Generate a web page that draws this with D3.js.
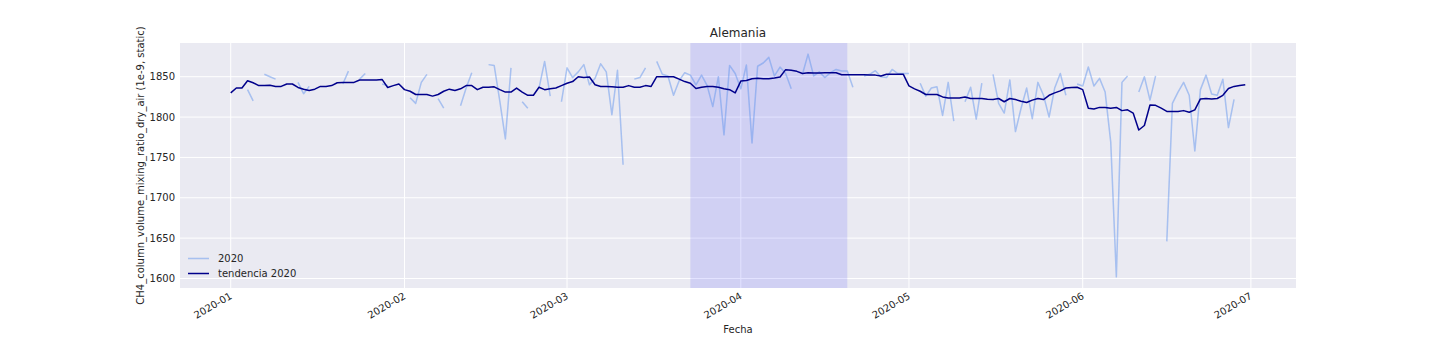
<!DOCTYPE html>
<html>
<head>
<meta charset="utf-8">
<script src="https://cdn.jsdelivr.net/npm/d3@7"></script>
<style>
  html, body { margin: 0; padding: 0; background: #ffffff; }
  svg { display: block; font-family: "DejaVu Sans", sans-serif; }
</style>
</head>
<body>
<svg id="chart" width="1440" height="360"></svg>
<script>
// ---- Data ----
const title = "Alemania";
const xLabel = "Fecha";
const yLabel = "CH4_column_volume_mixing_ratio_dry_air (1e-9, static)";
const seriesNames = ["2020", "tendencia 2020"];
const startDay = "2020-01-01";
const endDayExclusive = "2020-07-01";
const yTicks = [1600, 1650, 1700, 1750, 1800, 1850];
const xTickLabels = ["2020-01", "2020-02", "2020-03", "2020-04", "2020-05", "2020-06", "2020-07"];
const spanStart = "2020-03-23";
const spanEnd = "2020-04-20";

// daily raw values (null = missing)
const raw2020 = [
  null, null, null, 1834, 1820, null, 1853, 1850, 1847, null,
  null, null, 1843, 1829, 1838, null, null, null, null, null,
  1841, 1857, null, 1847, 1854, null, null, 1841, 1839, null,
  null, null, 1824, 1817, 1843, 1853, null, 1823, 1811, null,
  null, 1814, 1836, 1855, null, null, 1865, 1864, 1820, 1773,
  1861, null, 1819, 1811, null, 1836, 1869, 1826, null, 1819,
  1861, 1849, 1856, 1865, 1840, 1848, 1866, 1856, 1803, 1858,
  1741, null, 1847, 1849, 1861, null, 1869, 1853, 1851, 1827,
  1845, 1855, 1852, 1840, 1852, 1839, 1813, 1850, 1778, 1864,
  1854, 1835, 1864.6, 1768, 1863, 1867, 1874, 1851, 1862, 1854,
  1835, null, 1853, 1878, 1851, 1856, 1849, 1855, 1859, 1857,
  1857, 1837, null, 1851, 1853, 1857.5, 1850, 1849, 1859, 1854,
  1854, 1854, null, 1842, 1826, 1836, 1837.5, 1802, 1843, 1795,
  null, 1819, 1837, 1797.5, 1842, null, 1853, 1817, 1805, 1846,
  1782, 1811, 1836, 1798, 1843, 1827, 1800, 1836, 1854, 1827,
  null, 1841, 1838.5, 1862, 1838.5, 1848, 1831, 1769, 1602, 1843,
  1851, null, 1831, 1850, 1821, 1851, null, 1646, 1817, 1831,
  1843, 1827, 1758, 1834, 1852, 1828.5, 1827, 1847, 1787, 1822,
  null, null
];

// daily trend values
const trend2020 = [
  1830, 1836, 1836, 1845, 1842.5, 1839, 1839, 1839.5, 1838, 1838,
  1841, 1841, 1836.7, 1834.6, 1833, 1834.6, 1838, 1838, 1839, 1842.5,
  1843, 1843, 1843, 1846, 1846, 1846, 1846, 1846.7, 1836.7, 1839,
  1841, 1834, 1832, 1828, 1828, 1828, 1826, 1828, 1832, 1834.6,
  1833, 1835, 1839, 1839, 1834, 1837, 1837, 1837.5, 1834, 1831,
  1831, 1836, 1831, 1827, 1827, 1837, 1834, 1835, 1836, 1839,
  1842, 1844, 1850, 1849, 1849.6, 1840, 1838, 1838, 1837.5, 1837,
  1837, 1839, 1837, 1837, 1839, 1838, 1850, 1850, 1850, 1850,
  1847, 1844, 1842, 1835.4, 1837, 1838, 1838, 1837, 1835, 1834,
  1830, 1844.6, 1845.4, 1847.5, 1848, 1847.5, 1847.5, 1848.3, 1849.6, 1858.75,
  1858, 1856.7, 1854, 1855, 1854.6, 1854.6, 1855, 1855, 1855, 1852.5,
  1852.5, 1852.5, 1852.5, 1852.5, 1852, 1852, 1851, 1853, 1853, 1853,
  1853, 1838.75, 1835, 1832, 1828, 1828, 1828, 1825, 1823.75, 1823.75,
  1823.75, 1825, 1823, 1823, 1823, 1822, 1821.7, 1823, 1819, 1823,
  1821.7, 1819.6, 1818, 1821, 1823, 1821.7, 1827, 1830, 1832.5, 1836,
  1836.7, 1837, 1834, 1811, 1810, 1812, 1812, 1811, 1812, 1808,
  1809, 1805, 1784, 1789.6, 1815, 1814.6, 1811, 1807, 1807, 1807,
  1808, 1806, 1809, 1822.5, 1823, 1822.5, 1823, 1827, 1835.4, 1838,
  1839, 1840
];

// ---- Chart ----
const W = 1440, H = 360;
const plot = { left: 180, right: 1296, top: 43, bottom: 288 };
const svg = d3.select("#chart");
const textColor = "#262626";

const parse = d3.utcParse("%Y-%m-%d");
const dates = d3.utcDay.range(parse(startDay), parse(endDayExclusive));

const rows = dates.map((d, i) => ({ date: d, raw: raw2020[i], trend: trend2020[i] }));

const t0 = +dates[0], t1 = +dates[dates.length - 1];
const tPad = (t1 - t0) * 0.05;
const x = d3.scaleUtc()
  .domain([new Date(t0 - tPad), new Date(t1 + tPad)])
  .range([plot.left, plot.right]);

const allVals = raw2020.concat(trend2020).filter(v => v != null);
const [vMin, vMax] = d3.extent(allVals);
const vPad = (vMax - vMin) * 0.05;
const y = d3.scaleLinear()
  .domain([vMin - vPad, vMax + vPad])
  .range([plot.bottom, plot.top]);

// background
svg.append("rect").attr("x", 0).attr("y", 0).attr("width", W).attr("height", H).attr("fill", "#ffffff");
svg.append("rect")
  .attr("x", plot.left).attr("y", plot.top)
  .attr("width", plot.right - plot.left).attr("height", plot.bottom - plot.top)
  .attr("fill", "#eaeaf2");

// grid
const xTickDates = xTickLabels.map(s => parse(s + "-01"));
const grid = svg.append("g");
grid.selectAll("line.h").data(yTicks).join("line")
  .attr("x1", plot.left).attr("x2", plot.right)
  .attr("y1", d => y(d)).attr("y2", d => y(d))
  .attr("stroke", "#ffffff").attr("stroke-width", 1);
grid.selectAll("line.v").data(xTickDates).join("line")
  .attr("x1", d => x(d)).attr("x2", d => x(d))
  .attr("y1", plot.top).attr("y2", plot.bottom)
  .attr("stroke", "#ffffff").attr("stroke-width", 1);

// shaded span
svg.append("rect")
  .attr("x", x(parse(spanStart))).attr("y", plot.top)
  .attr("width", x(parse(spanEnd)) - x(parse(spanStart)))
  .attr("height", plot.bottom - plot.top)
  .attr("fill", "#0000ff").attr("fill-opacity", 0.11);

// clip
svg.append("clipPath").attr("id", "clip").append("rect")
  .attr("x", plot.left).attr("y", plot.top)
  .attr("width", plot.right - plot.left).attr("height", plot.bottom - plot.top);

const rawLine = d3.line()
  .defined(d => d.raw != null)
  .x(d => x(d.date)).y(d => y(d.raw));
const trendLine = d3.line()
  .x(d => x(d.date)).y(d => y(d.trend));

const rawColor = "#6495ed";
const trendColor = "#00008b";

svg.append("path").datum(rows)
  .attr("clip-path", "url(#clip)")
  .attr("d", rawLine)
  .attr("fill", "none").attr("stroke", rawColor).attr("stroke-opacity", 0.5)
  .attr("stroke-width", 1.5).attr("stroke-linejoin", "round");

svg.append("path").datum(rows)
  .attr("clip-path", "url(#clip)")
  .attr("d", trendLine)
  .attr("fill", "none").attr("stroke", trendColor)
  .attr("stroke-width", 1.5).attr("stroke-linejoin", "round");

// y tick labels
svg.append("g").selectAll("text").data(yTicks).join("text")
  .attr("x", plot.left - 5).attr("y", d => y(d))
  .attr("dy", "0.36em")
  .attr("text-anchor", "end")
  .attr("font-size", 10).attr("fill", textColor)
  .text(d => d);

// x tick labels (rotated)
svg.append("g").selectAll("text").data(xTickDates).join("text")
  .attr("transform", d => `translate(${x(d) + 2},${plot.bottom + 10}) rotate(-30)`)
  .attr("text-anchor", "end")
  .attr("font-size", 10).attr("fill", textColor)
  .text((d, i) => xTickLabels[i]);

// title
svg.append("text")
  .attr("x", (plot.left + plot.right) / 2).attr("y", 37)
  .attr("text-anchor", "middle")
  .attr("font-size", 12).attr("fill", textColor)
  .text(title);

// x label
svg.append("text")
  .attr("x", (plot.left + plot.right) / 2).attr("y", 333)
  .attr("text-anchor", "middle")
  .attr("font-size", 10).attr("fill", textColor)
  .text(xLabel);

// y label
svg.append("text")
  .attr("transform", `translate(144,${(plot.top + plot.bottom) / 2}) rotate(-90)`)
  .attr("text-anchor", "middle")
  .attr("font-size", 10).attr("fill", textColor)
  .text(yLabel);

// legend
const legend = svg.append("g");
const legendItems = [
  { name: seriesNames[0], color: rawColor, opacity: 0.5 },
  { name: seriesNames[1], color: trendColor, opacity: 1 }
];
legendItems.forEach((it, i) => {
  const ly = 258.5 + i * 15;
  legend.append("line")
    .attr("x1", 188).attr("x2", 209).attr("y1", ly).attr("y2", ly)
    .attr("stroke", it.color).attr("stroke-opacity", it.opacity).attr("stroke-width", 1.5);
  legend.append("text")
    .attr("x", 218).attr("y", ly).attr("dy", "0.36em")
    .attr("font-size", 10).attr("fill", textColor)
    .text(it.name);
});
</script>
</body>
</html>
